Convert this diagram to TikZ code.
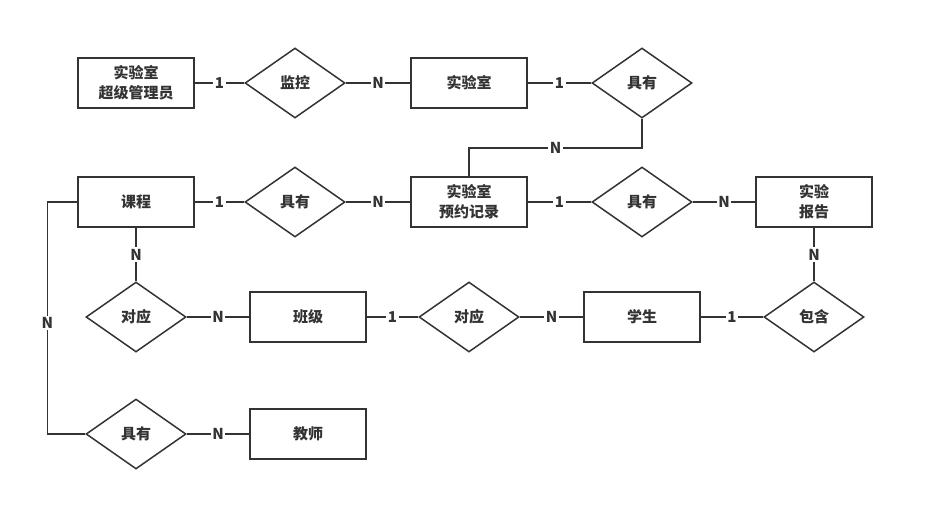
\documentclass[tikz,border=0pt]{standalone}
\usepackage{fontspec}
\setmainfont{Noto Sans CJK SC}
\usetikzlibrary{shapes.geometric}
\definecolor{linegray}{HTML}{333333}

\begin{document}
\begin{tikzpicture}[
    x=1pt, y=-1pt,
    font=\fontsize{15}{20}\selectfont\bfseries,
    every node/.style={text=linegray},
    entity/.style={rectangle, draw=linegray, line width=1.5pt, minimum width=116pt, minimum height=50pt, align=center, inner sep=0pt},
    relation/.style={diamond, draw=linegray, line width=1.5pt, minimum width=100pt, minimum height=70pt, inner sep=0pt},
    card/.style={fill=white, inner sep=1.5pt},
    link/.style={draw=linegray, line width=1.5pt}
]
\useasboundingbox (0,0) rectangle (934,531);

% Entities and relations
\node[entity] (admin) at (136,83) {实验室\\超级管理员};
\node[relation] (monitor) at (295,83) {监控};
\node[entity] (lab) at (469,83) {实验室};
\node[relation] (labhas) at (642,83) {具有};

\node[entity] (course) at (136,202) {课程};
\node[relation] (coursehas) at (295,202) {具有};
\node[entity] (booking) at (469,202) {实验室\\预约记录};
\node[relation] (bookhas) at (642,202) {具有};
\node[entity] (report) at (814,202) {实验\\报告};

\node[relation] (coursemap) at (136,317) {对应};
\node[entity] (class) at (308,317) {班级};
\node[relation] (classmap) at (469,317) {对应};
\node[entity] (student) at (642,317) {学生};
\node[relation] (contain) at (814,317) {包含};

\node[relation] (teachhas) at (136,434) {具有};
\node[entity] (teacher) at (308,434) {教师};

% Connectors
\draw[link] (admin) -- node[card] {1} (monitor);
\draw[link] (monitor) -- node[card] {N} (lab);
\draw[link] (lab) -- node[card] {1} (labhas);
\draw[link] (labhas.south) -- ++(0,29) -| node[card, pos=0.25] {N} (booking.north);

\draw[link] (course) -- node[card] {1} (coursehas);
\draw[link] (coursehas) -- node[card] {N} (booking);
\draw[link] (booking) -- node[card] {1} (bookhas);
\draw[link] (bookhas) -- node[card] {N} (report);

\draw[link] (course) -- node[card] {N} (coursemap);
\draw[link] (coursemap) -- node[card] {N} (class);
\draw[link] (class) -- node[card] {1} (classmap);
\draw[link] (classmap) -- node[card] {N} (student);
\draw[link] (student) -- node[card] {1} (contain);
\draw[link] (report) -- node[card] {N} (contain);

\draw[link] (course.west) -- ++(-30,0) |- node[card, pos=0.26] {N} (teachhas.west);
\draw[link] (teachhas) -- node[card] {N} (teacher);

\end{tikzpicture}
\end{document}
